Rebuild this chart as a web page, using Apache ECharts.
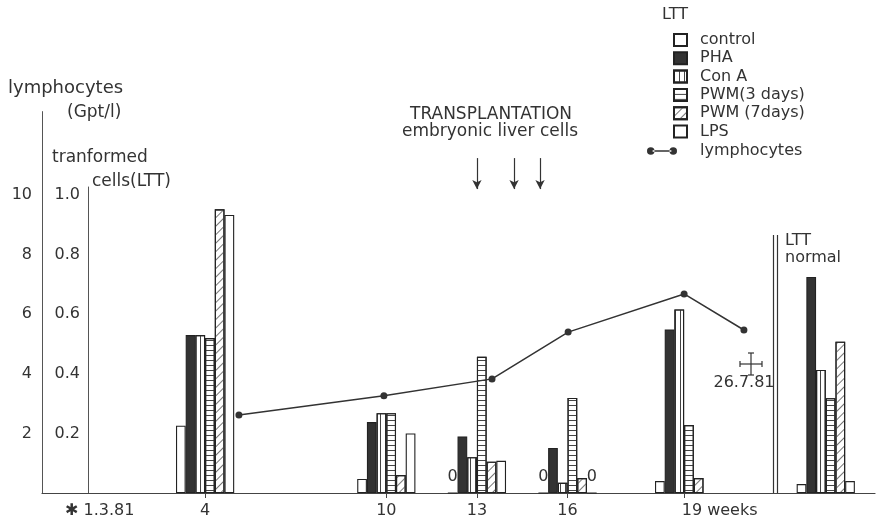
<!DOCTYPE html>
<html><head><meta charset="utf-8">
<script src="https://cdn.jsdelivr.net/npm/echarts@6/dist/echarts.min.js"></script>
<style>html,body{margin:0;padding:0;background:#fff}#c{width:878px;height:526px}</style>
</head><body><div id="c"></div>
<script>
// Positions of the bar groups on the drawn week axis (axis is not to scale after week 16)
const groupAt = [4, 10, 13, 16, 19.86, 24.55];
const groupNames = ['4', '10', '13', '16', '19', 'LTT normal'];
// transformed cells (LTT), fraction
const control = [0.226, 0.047, 0, 0, 0.04, 0.03];
const pha     = [0.53, 0.238, 0.19, 0.151, 0.549, 0.725];
const conA    = [0.53, 0.268, 0.12, 0.034, 0.616, 0.413];
const pwm3    = [0.52, 0.268, 0.457, 0.319, 0.228, 0.318];
const pwm7    = [0.952, 0.06, 0.105, 0.05, 0.05, 0.508];
const lps     = [0.933, 0.2, 0.108, 0, null, 0.04];
// lymphocytes (Gpt/l)
const lymphAt = [5.12, 9.92, 13.5, 16.02, 19.86, 21.84];
const lymphocytes = [2.62, 3.26, 3.83, 5.40, 6.68, 5.47];
// transplantation arrows (weeks)
const transplantAt = [13.0, 14.23, 15.09];
// x axis ticks
const tickAt = [0, 4, 10, 13, 16, 19.86];
const tickLabels = ['✱ 1.3.81', '4', '10', '13', '16', '19 weeks'];
const lymphTicks = [2, 4, 6, 8, 10];
const lttTicks = [0.2, 0.4, 0.6, 0.8, 1.0];
const normalDividerAt = [22.8, 22.94];

const F = 'DejaVu Sans';
const TXT = '#333';
const chart = echarts.init(document.getElementById('c'), null, {renderer: 'canvas'});

function barSeries(name, values, style, decal) {
  const itemStyle = Object.assign({color: '#fff', borderColor: '#222', borderWidth: 1.1}, style);
  if (decal) itemStyle.decal = decal;
  return {
    name: name, type: 'bar', xAxisIndex: 0, yAxisIndex: 1,
    barWidth: 9.7, barGap: '0%',
    data: groupAt.map((x, i) => values[i] == null ? null : [x, values[i]]).filter(d => d),
    itemStyle: itemStyle,
    label: {show: true, position: 'top', distance: 8, fontFamily: F, fontSize: 16, color: TXT,
      formatter: p => (p.value[1] === 0 ? '0' : '')},
    z: 2
  };
}

function txt(text, x, y, opts) {
  return {type: 'text', x: x, y: y, silent: true,
    style: Object.assign({text: text, fontFamily: F, fontSize: 16, fill: TXT, verticalAlign: 'middle', align: 'left'}, opts || {})};
}
function ln(x1, y1, x2, y2) {
  return {type: 'line', silent: true, shape: {x1: x1, y1: y1, x2: x2, y2: y2}, style: {stroke: '#333', lineWidth: 1.2}};
}

const option = {
  backgroundColor: '#fff',
  animation: false,
  textStyle: {fontFamily: F},
  grid: [
    {left: 42, right: 3, top: 111.6, bottom: 33, outerBoundsMode: 'none'},
    {left: 88, right: 3, top: 187, bottom: 33, outerBoundsMode: 'none'}
  ],
  xAxis: [
    {type: 'value', gridIndex: 0, min: -1.4, max: 26.18,
      splitLine: {show: false},
      axisLine: {show: true, onZero: false, lineStyle: {color: '#444', width: 1.2}},
      axisTick: {show: true, customValues: tickAt.slice(1), length: 5, lineStyle: {color: '#444'}},
      axisLabel: {show: true, customValues: tickAt, margin: 10, fontFamily: F, fontSize: 16, color: TXT,
        formatter: function (v) {
          const i = tickAt.findIndex(t => Math.abs(t - v) < 1e-6);
          if (i < 0) return '';
          if (i === 0) return '{p0| }' + tickLabels[i];
          if (i === tickAt.length - 1) return '{p19| }' + tickLabels[i];
          return tickLabels[i];
        },
        rich: {p0: {width: 31}, p19: {width: 71}}
      }
    },
    {type: 'value', gridIndex: 1, min: 0, max: 1, show: false}
  ],
  yAxis: [
    {type: 'value', gridIndex: 0, min: 0, max: 12.8, position: 'left',
      splitLine: {show: false},
      axisLine: {show: true, onZero: false, lineStyle: {color: '#555', width: 1}},
      axisTick: {show: false},
      axisLabel: {customValues: lymphTicks, margin: 10, fontFamily: F, fontSize: 16, color: TXT}
    },
    {type: 'value', gridIndex: 0, min: 0, max: 1.28, show: false},
    {type: 'value', gridIndex: 1, min: 0, max: 1.027, position: 'left',
      splitLine: {show: false},
      axisLine: {show: true, onZero: false, lineStyle: {color: '#555', width: 1}},
      axisTick: {show: false},
      axisLabel: {customValues: lttTicks, margin: 8, fontFamily: F, fontSize: 16, color: TXT,
        formatter: v => v.toFixed(1)}
    }
  ],
  legend: [
    {orient: 'vertical', left: 668, top: 27, itemWidth: 13, itemHeight: 12, itemGap: 2.3,
      icon: 'rect', selectedMode: false,
      textStyle: {fontFamily: F, fontSize: 16, color: TXT, lineHeight: 16, padding: [0, 0, 0, 8]},
      data: ['control', 'PHA', 'Con A', 'PWM(3 days)', 'PWM (7days)', 'LPS']
    },
    {orient: 'vertical', left: 642, top: 138, itemWidth: 30, itemHeight: 8, selectedMode: false,
      textStyle: {fontFamily: F, fontSize: 16, color: TXT, lineHeight: 16, padding: [0, 0, 0, 18]},
      data: [{name: 'lymphocytes',
        icon: 'path://M0,4a4,4 0 1,0 8,0a4,4 0 1,0 -8,0Z M24,4a4,4 0 1,0 8,0a4,4 0 1,0 -8,0Z M6,3.3L26,3.3L26,4.7L6,4.7Z'}]
    }
  ],
  series: [
    barSeries('control', control, {}),
    barSeries('PHA', pha, {color: '#333'}),
    barSeries('Con A', conA, {}, {symbol: 'rect', symbolSize: 1, color: '#444', dashArrayX: [1, 3.5], dashArrayY: [1, 0]}),
    barSeries('PWM(3 days)', pwm3, {}, {symbol: 'rect', symbolSize: 1, color: '#444', dashArrayX: [1, 0], dashArrayY: [1, 4]}),
    barSeries('PWM (7days)', pwm7, {}, {symbol: 'rect', symbolSize: 1, color: '#777', dashArrayX: [1, 0], dashArrayY: [1, 5], rotation: -Math.PI / 4}),
    barSeries('LPS', lps, {}),
    {
      name: 'lymphocytes', type: 'line', xAxisIndex: 0, yAxisIndex: 0,
      data: lymphAt.map((x, i) => [x, lymphocytes[i]]),
      symbol: 'circle', symbolSize: 7, showSymbol: true,
      lineStyle: {color: '#333', width: 1.5},
      itemStyle: {color: '#333'},
      z: 5,
      markLine: {
        silent: true, symbol: ['none', 'arrow'], symbolSize: [7, 9],
        lineStyle: {color: '#333', width: 1.2, type: 'solid'},
        label: {show: false}, emphasis: {disabled: true},
        data: transplantAt.map(x => [{coord: [x, 11.24]}, {coord: [x, 10.2]}])
          .concat(normalDividerAt.map(x => [{coord: [x, 0], symbol: 'none'}, {coord: [x, 8.66], symbol: 'none'}]))
      }
    }
  ],
  graphic: [
    txt('lymphocytes', 8, 88, {fontSize: 18}),
    txt('(Gpt/l)', 67, 113, {fontSize: 17}),
    txt('tranformed', 52, 158, {fontSize: 17}),
    txt('cells(LTT)', 92, 182, {fontSize: 17}),
    txt('TRANSPLANTATION', 491, 115, {fontSize: 17, align: 'center'}),
    txt('embryonic liver cells', 490, 132, {fontSize: 17, align: 'center'}),
    txt('26.7.81', 744, 383, {fontSize: 16, align: 'center'}),
    txt('LTT', 785, 241, {fontSize: 16}),
    txt('normal', 785, 258, {fontSize: 16}),
    txt('LTT', 662, 15, {fontSize: 16}),
    ln(751, 353, 751, 375), ln(740, 364, 762, 364),
    ln(748, 353, 754, 353), ln(748, 375, 754, 375),
    ln(740, 361, 740, 367), ln(762, 361, 762, 367)
  ]
};
chart.setOption(option);
</script>
</body></html>
